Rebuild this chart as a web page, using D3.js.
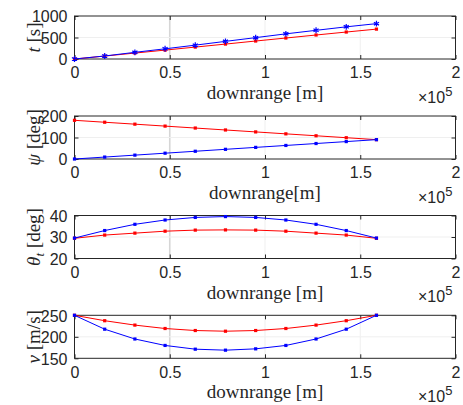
<!DOCTYPE html>
<html>
<head>
<meta charset="utf-8">
<script src="https://cdn.jsdelivr.net/npm/d3@7"></script>
<style>
  body { margin: 0; background: #fff; }
  .tick text { font-family: "Liberation Sans", Arial, sans-serif; font-size: 16px; fill: #262626; }
  .lab { font-family: "Liberation Serif", "Times New Roman", serif; font-size: 19px; fill: #262626; }
</style>
</head>
<body>
<script>
// downrange [m]
var downrange = [0, 15850, 31700, 47550, 63400, 79250, 95100, 110950, 126800, 142650, 158500];

var tBlue = [0, 70, 155, 237, 322, 410, 497, 585, 667, 748, 822];
var tRed  = [0, 68, 138, 207, 277, 347, 418, 488, 558, 627, 695];

var psiBlue = [0, 9, 18, 27, 36, 45, 54, 63, 72, 81, 90];
var psiRed  = [180, 171, 162, 153, 144, 135, 126, 117, 108, 99, 90];

var thBlue = [29.5, 33.0, 35.9, 37.9, 39.1, 39.5, 39.1, 37.9, 35.9, 33.0, 29.5];
var thRed  = [29.4, 30.9, 31.8, 32.7, 33.2, 33.3, 33.2, 32.7, 31.8, 30.9, 29.4];

var vBlue = [250, 217.7, 194.9, 179.9, 171.2, 168.9, 172.0, 179.9, 194.9, 217.7, 250];
var vRed  = [250, 237.4, 227.2, 219.3, 214.6, 213.0, 214.6, 219.3, 227.2, 237.4, 250];

var xTicks = [0, 50000, 100000, 150000, 200000];
var xTickLabels = ["0", "0.5", "1", "1.5", "2"];

var panels = [
  {blue: tBlue, red: tRed, dom: [0, 1000], ticks: [0, 500, 1000], xlab: "downrange [m]", ylab: "t", yunit: " [s]", star: true},
  {blue: psiBlue, red: psiRed, dom: [0, 200], ticks: [0, 100, 200], xlab: "downrange[m]", ylab: "\u03c8", yunit: " [deg]"},
  {blue: thBlue, red: thRed, dom: [20, 40], ticks: [20, 30, 40], xlab: "downrange [m]", ylab: "\u03b8", sub: "t", yunit: " [deg]"},
  {blue: vBlue, red: vRed, dom: [150, 250], ticks: [150, 200, 250], xlab: "downrange [m]", ylab: "v", yunit: " [m/s]"}
];

var W = 463, H = 405;
var left = 74.5, right = 455.5, ph = 43;
var tops = [16, 116, 215.5, 315.3];

var svg = d3.select("body").append("svg")
            .attr("width", W)
            .attr("height", H);

var x = d3.scaleLinear().domain([0, 200000]).range([left, right]);

panels.forEach(function(p, k){
  var top = tops[k], bot = top + ph;
  var y = d3.scaleLinear().domain(p.dom).range([bot, top]);
  var g = svg.append("g");

  // grid (x = 0.5 line looks heavier in the original)
  g.selectAll(".vg").data(xTicks.slice(1, 4)).enter().append("line")
    .attr("x1", d => x(d)).attr("x2", d => x(d))
    .attr("y1", top).attr("y2", bot)
    .attr("stroke", d => d == 50000 ? "#d6d6d6" : "#efefef")
    .attr("stroke-width", d => d == 50000 ? 1.6 : 1);
  g.append("line")
    .attr("x1", left).attr("x2", right)
    .attr("y1", y(p.ticks[1])).attr("y2", y(p.ticks[1]))
    .attr("stroke", "#efefef");

  // axes with ticks on all sides
  var xa = g.append("g").attr("transform", "translate(0," + bot + ")")
    .call(d3.axisBottom(x).tickValues(xTicks).tickSizeInner(-4).tickSizeOuter(0).tickPadding(8)
      .tickFormat((d, i) => xTickLabels[i]));
  g.append("g").attr("transform", "translate(0," + top + ")")
    .call(d3.axisTop(x).tickValues(xTicks).tickSizeInner(-4).tickSizeOuter(0).tickFormat(""));
  var ya = g.append("g").attr("transform", "translate(" + left + ",0)")
    .call(d3.axisLeft(y).tickValues(p.ticks).tickSizeInner(-4).tickSizeOuter(0).tickPadding(7)
      .tickFormat(d3.format("d")));
  g.append("g").attr("transform", "translate(" + right + ",0)")
    .call(d3.axisRight(y).tickValues(p.ticks).tickSizeInner(-4).tickSizeOuter(0).tickFormat(""));
  g.selectAll(".domain").remove();
  g.selectAll(".tick line").attr("stroke", "#262626");
  xa.selectAll("text").attr("dy", "0.71em");
  ya.selectAll("text").attr("dy", "0.36em");

  g.append("rect")
    .attr("x", left).attr("y", top)
    .attr("width", right - left).attr("height", ph)
    .attr("fill", "none").attr("stroke", "#262626").attr("stroke-width", 1);

  var line = d3.line().x((d, i) => x(downrange[i])).y(d => y(d));

  [["#ff0000", p.red, false], ["#0000ff", p.blue, p.star]].forEach(function(s){
    g.append("path").datum(s[1])
      .attr("d", line)
      .attr("fill", "none")
      .attr("stroke", s[0])
      .attr("stroke-width", 1);
    if (s[2]){
      g.selectAll(null).data(s[1]).enter().append("path")
        .attr("d", d3.symbol(d3.symbolAsterisk, 24))
        .attr("transform", (d, i) => "translate(" + x(downrange[i]) + "," + y(d) + ")")
        .attr("fill", "none").attr("stroke", s[0]).attr("stroke-width", 1.2);
    } else {
      g.selectAll(null).data(s[1]).enter().append("rect")
        .attr("x", (d, i) => x(downrange[i]) - 1.6)
        .attr("y", d => y(d) - 1.6)
        .attr("width", 3.2).attr("height", 3.2)
        .attr("fill", s[0]);
    }
  });

  // x label
  g.append("text").attr("class", "lab")
    .attr("x", (left + right) / 2).attr("y", bot + 40)
    .attr("text-anchor", "middle")
    .text(p.xlab);

  // x10^5 multiplier
  var m = g.append("text")
    .attr("x", 418).attr("y", bot + 43.5)
    .style("font-family", "Liberation Sans, Arial, sans-serif")
    .style("font-size", "16px").attr("fill", "#262626");
  m.append("tspan").text("\u00d710");
  m.append("tspan").attr("dy", -7).style("font-size", "13px").text("5");

  // y label
  var yl = g.append("text").attr("class", "lab")
    .attr("transform", "translate(40," + (top + ph / 2) + ") rotate(-90)")
    .attr("text-anchor", "middle");
  yl.append("tspan").style("font-style", "italic").text(p.ylab);
  if (p.sub){
    yl.append("tspan").attr("dy", 4).style("font-style", "italic").style("font-size", "13px").text(p.sub);
    yl.append("tspan").attr("dy", -4).text(p.yunit);
  } else {
    yl.append("tspan").text(p.yunit);
  }
});
</script>
</body>
</html>
